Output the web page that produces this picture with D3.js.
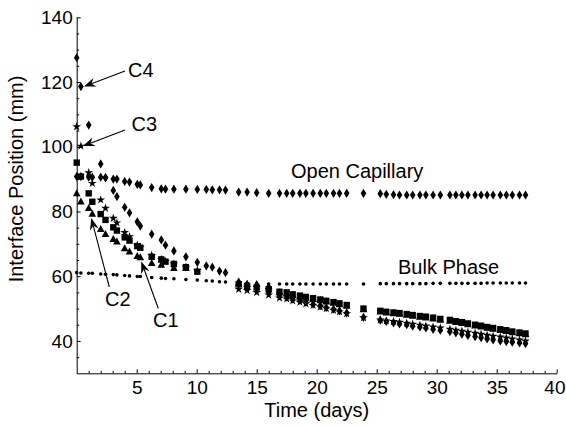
<!DOCTYPE html>
<html>
<head>
<meta charset="utf-8">
<script src="https://cdn.jsdelivr.net/npm/d3@7"></script>
<style>
  html, body { margin: 0; padding: 0; background: #fff; }
  svg text { font-family: "Liberation Sans", Arial, Helvetica, sans-serif; fill: #000; }
</style>
</head>
<body>
<svg id="chart" width="566" height="426"></svg>
<script>
// ---- data (days, interface position in mm) ----
const days = [0, 0.35, 1.0, 1.3, 2.0, 2.4, 3.05, 3.35, 4.0, 4.4, 5.05, 5.3, 6.25, 7.05, 7.4, 8.1, 9.1, 10.05, 10.8, 11.3,
  11.9, 12.4, 13.5, 14.2, 15.0, 16.0, 16.9, 17.5, 18.0, 18.6, 19.1, 19.7, 20.3, 20.8, 21.4, 21.9, 22.5, 23.9, 25.3, 25.8,
  26.4, 26.9, 27.5, 28.0, 28.6, 29.1, 29.7, 30.3, 31.1, 31.6, 32.1, 32.6, 33.2, 33.7, 34.2, 34.7, 35.3, 35.8, 36.3, 36.9, 37.4];

const openCapillary = [90.8, 90.8, 90.6, 90.6, 90.6, 90.5, 90.0, 90.0, 89.3, 89.1, 88.4, 88.2, 87.4, 87.0, 86.9, 86.9, 86.9, 86.8, 86.8, 86.7,
  86.7, 86.6, 86.0, 86.0, 85.8, 85.6, 85.6, 85.6, 85.6, 85.6, 85.6, 85.6, 85.6, 85.6, 85.6, 85.6, 85.6, 85.6, 85.5, 85.3,
  85.2, 85.1, 85.1, 85.1, 85.1, 85.1, 85.1, 85.1, 85.1, 85.1, 85.1, 85.1, 85.1, 85.1, 85.1, 85.1, 85.1, 85.1, 85.1, 85.1, 85.1];

const bulkPhase = [61.1, 61.0, 60.9, 60.9, 60.7, 60.6, 60.5, 60.4, 60.2, 60.1, 59.9, 59.9, 59.6, 59.4, 59.3, 59.2, 59.0, 58.8, 58.6, 58.5,
  58.3, 58.2, 57.9, 57.8, 57.7, 57.6, 57.6, 57.6, 57.6, 57.6, 57.6, 57.6, 57.6, 57.6, 57.6, 57.6, 57.6, 57.6, 57.7, 57.7,
  57.7, 57.7, 57.7, 57.7, 57.7, 57.7, 57.8, 57.8, 57.8, 57.8, 57.8, 57.8, 57.8, 57.8, 57.9, 57.9, 57.9, 57.9, 57.9, 57.9, 57.9];

const c1 = [95.1, 90.8, 85.6, 83.0, 79.2, 77.4, 75.1, 74.1, 72.0, 71.0, 69.3, 68.8, 66.0, 65.2, 64.5, 63.8, 62.8, 61.4, null, null,
  null, null, 57.5, 57.0, 56.5, 56.0, 55.2, 55.0, 54.4, 54.0, 53.6, 53.2, 52.8, 52.4, 52.0, 51.6, 51.1, 50.0, 49.3, 49.0,
  48.8, 48.6, 48.3, 48.0, 47.7, 47.5, 47.2, 46.8, 46.5, 46.1, 45.8, 45.4, 45.0, 44.7, 44.3, 44.0, 43.6, 43.3, 42.9, 42.6, 42.3];

const c2 = [85.6, 83.0, 81.0, 79.2, 74.5, 73.0, 71.4, 70.7, 68.6, 67.6, 66.2, 65.8, 64.0, 63.5, null, 62.5, 62.5, null, null, null,
  null, null, 57.8, 57.6, 57.5, 56.8, 55.0, 54.7, 54.1, 53.7, 53.3, 52.9, 52.5, 52.1, 51.7, 51.3, 50.8, 49.7, 49.0, 48.7,
  48.5, 48.3, 48.0, 47.7, 47.4, 47.2, 46.9, 46.5, 46.2, 45.8, 45.5, 45.1, 44.7, 44.4, 44.0, 43.7, 43.3, 43.0, 42.6, 42.3, 42.0];

const c3 = [106.2, 100.2, 92.0, 88.7, 83.6, 81.0, 77.9, 76.5, 73.5, 72.2, 69.6, 69.0, 66.4, 65.2, 64.6, 63.8, 62.8, 61.8, null, null,
  null, null, 56.0, 55.6, 55.0, 54.2, 53.3, 53.0, 52.4, 52.0, 51.5, 51.0, 50.5, 50.0, 49.5, 49.0, 48.4, 47.2, 46.5, 46.2,
  46.0, 45.8, 45.5, 45.2, 44.9, 44.6, 44.3, 44.0, 43.6, 43.3, 43.0, 42.7, 42.4, 42.1, 41.8, 41.5, 41.2, 40.9, 40.6, 40.3, 40.0];

const c4 = [127.5, 118.6, 106.7, null, 94.7, 90.4, 86.5, 84.6, 81.3, 79.6, 76.8, 75.5, 73.0, 71.2, 69.6, 67.8, 66.0, 64.3, 63.2, 62.8,
  61.6, 61.1, 58.2, 57.3, 56.2, 55.0, 54.0, 53.6, 53.0, 52.5, 52.0, 51.4, 50.9, 50.3, 49.8, 49.3, 48.7, 47.3, 46.4, 46.0,
  45.6, 45.3, 45.0, 44.6, 44.3, 44.0, 43.6, 43.3, 42.9, 42.5, 42.1, 41.7, 41.3, 41.0, 40.6, 40.3, 40.0, 39.8, 39.6, 39.4, 39.2];

const xMajorTicks = [5, 10, 15, 20, 25, 30, 35, 40];
const yMajorTicks = [40, 60, 80, 100, 120, 140];

// ---- layout ----
const svg = d3.select("#chart");
const x = d3.scaleLinear().domain([0, 40]).range([76.7, 556.7]);
const y = d3.scaleLinear().domain([30, 140]).range([373.3, 17.3]);

// ---- axes ----
const xMinor = d3.range(1, 40).filter(v => v % 5 !== 0);
const yMinor = d3.range(35, 140, 5).filter(v => v % 20 !== 0);

const gxMinor = svg.append("g").attr("transform", `translate(0,${y(30)})`)
  .call(d3.axisBottom(x).tickValues(xMinor).tickSize(-2.5).tickFormat(""));
const gx = svg.append("g").attr("transform", `translate(0,${y(30)})`)
  .call(d3.axisBottom(x).tickValues(xMajorTicks).tickSize(-4).tickPadding(7).tickSizeOuter(0));
const gyMinor = svg.append("g").attr("transform", `translate(${x(0)},0)`)
  .call(d3.axisLeft(y).tickValues(yMinor).tickSize(-2.5).tickFormat(""));
const gy = svg.append("g").attr("transform", `translate(${x(0)},0)`)
  .call(d3.axisLeft(y).tickValues(yMajorTicks).tickSize(-4).tickPadding(4).tickSizeOuter(0));

[gxMinor, gyMinor].forEach(g => g.select(".domain").remove());
svg.selectAll(".tick line").attr("stroke", "#000").attr("stroke-width", 1);
svg.selectAll(".domain").attr("stroke", "#000").attr("stroke-width", 1);
gx.selectAll("text").attr("font-size", 19);
gy.selectAll("text").attr("font-size", 19);
svg.selectAll("g").attr("font-family", null);
// keep the last x label inside the picture edge
gx.selectAll(".tick").filter(d => d === 40).select("text")
  .attr("text-anchor", "end").attr("x", 565 - x(40));

svg.append("text").attr("x", x(20)).attr("y", 417).attr("text-anchor", "middle")
  .attr("font-size", 20).text("Time (days)");
svg.append("text").attr("transform", "translate(23,179) rotate(-90)").attr("text-anchor", "middle")
  .attr("font-size", 20).text("Interface Position (mm)");

// ---- markers ----
const shapes = {
  diamond: "M0,-4.6L2.8,0L0,4.6L-2.8,0Z",
  square: "M-3.2,-3.2H3.2V3.2H-3.2Z",
  triangle: "M0,-4.2L3.8,2.8L-3.8,2.8Z",
  star: d3.symbol(d3.symbolStar, 24)(),
  dot: "M-1.8,0A1.8,1.8 0 1,0 1.8,0A1.8,1.8 0 1,0 -1.8,0Z"
};

function plotSeries(values, shape, cls) {
  const pts = days.map((d, i) => ({ d, v: values[i] })).filter(p => p.v != null);
  svg.append("g").attr("class", cls).selectAll("path").data(pts).join("path")
    .attr("d", shapes[shape])
    .attr("transform", p => `translate(${x(p.d)},${y(p.v)})`)
    .attr("fill", "#000");
}

plotSeries(bulkPhase, "dot", "bulk");
plotSeries(openCapillary, "diamond", "open");
plotSeries(c2, "triangle", "c2");
plotSeries(c1, "square", "c1");
plotSeries(c3, "star", "c3");
plotSeries(c4, "diamond", "c4");

// ---- annotations ----
function arrow(x1, y1, x2, y2) {
  const ang = Math.atan2(y2 - y1, x2 - x1);
  const L = 12, W = 4.5, N = 8;
  const back = (l, w) => [x2 - l * Math.cos(ang) - w * Math.sin(ang), y2 - l * Math.sin(ang) + w * Math.cos(ang)];
  const g = svg.append("g");
  g.append("line").attr("x1", x1).attr("y1", y1)
    .attr("x2", back(N, 0)[0]).attr("y2", back(N, 0)[1])
    .attr("stroke", "#000").attr("stroke-width", 1.1);
  const p = [[x2, y2], back(L, W), back(N, 0), back(L, -W)];
  g.append("path").attr("d", "M" + p.map(q => q.join(",")).join("L") + "Z").attr("fill", "#000");
}

// arrows point at data markers
arrow(125, 71, x(0.35) + 3, y(118.6));
arrow(125, 130, x(0.35) + 2, y(100.2));
arrow(109.3, 287, x(1.3) - 1, y(79.2) + 4);
arrow(158.3, 308.5, x(5.3) + 1, y(65.8) + 4);

const labels = [
  { t: "C4", x: 128, y: 77 },
  { t: "C3", x: 131.5, y: 131 },
  { t: "C2", x: 105, y: 306 },
  { t: "C1", x: 153, y: 327 },
  { t: "Open Capillary", x: 291, y: 178 },
  { t: "Bulk Phase", x: 398, y: 274 }
];
svg.append("g").selectAll("text").data(labels).join("text")
  .attr("x", d => d.x).attr("y", d => d.y).attr("font-size", 20).text(d => d.t);
</script>
</body>
</html>
